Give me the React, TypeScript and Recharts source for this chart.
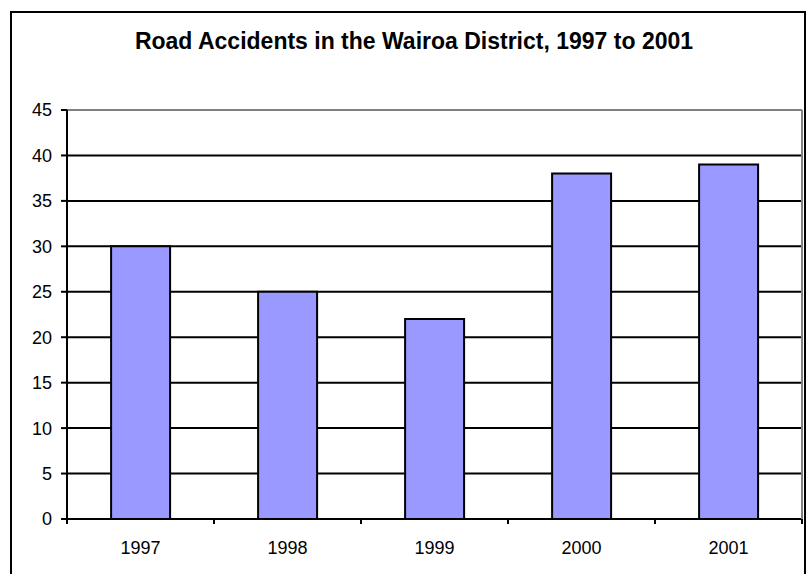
import React from 'react';
import { BarChart, Bar, XAxis, YAxis, CartesianGrid, ReferenceLine } from 'recharts';

const TITLE = 'Road Accidents in the Wairoa District, 1997 to 2001';
const years = ['1997', '1998', '1999', '2000', '2001'];
const accidents = [30, 25, 22, 38, 39];
const yTicks = [0, 5, 10, 15, 20, 25, 30, 35, 40, 45];

const data = years.map((year, i) => ({ year, accidents: accidents[i] }));

const FONT = '"Liberation Sans", Arial, sans-serif';
const X_TICK_SIZE = 5;
const X_TICK_MARGIN = 17;

const XTick = (props: any) => {
  const { x, y, payload, index, visibleTicksCount } = props;
  const half = payload && payload.offset ? payload.offset : 0;
  const axisY = y - X_TICK_SIZE - X_TICK_MARGIN;
  const isLast = index === visibleTicksCount - 1;
  return (
    <g>
      <line x1={x - half} x2={x - half} y1={axisY} y2={axisY + X_TICK_SIZE} stroke="#000" strokeWidth={2} />
      {isLast && (
        <line x1={x + half} x2={x + half} y1={axisY} y2={axisY + X_TICK_SIZE} stroke="#000" strokeWidth={2} />
      )}
      <text x={x} y={y} dy="0.71em" textAnchor="middle" fontFamily={FONT} fontSize={18} fill="#000">
        {payload.value}
      </text>
    </g>
  );
};

export default function App() {
  return (
    <div style={{ position: 'absolute', left: 0, top: 0, width: 806, height: 574, overflow: 'hidden', background: '#fff' }}>
      <div
        style={{
          position: 'absolute',
          left: 10,
          top: 11,
          width: 796,
          height: 700,
          border: '2px solid #000',
          boxSizing: 'border-box',
        }}
      />
      <div
        style={{
          position: 'absolute',
          left: 14,
          top: 30,
          width: 800,
          textAlign: 'center',
          fontFamily: FONT,
          fontWeight: 'bold',
          fontSize: 23,
          lineHeight: '23px',
          color: '#000',
          whiteSpace: 'nowrap',
        }}
      >
        {TITLE}
      </div>
      <div style={{ position: 'absolute', left: 0, top: 0 }}>
        <BarChart
          width={806}
          height={574}
          data={data}
          margin={{ top: 110, right: 0, bottom: 0, left: 0 }}
          barCategoryGap="30%"
        >
          <CartesianGrid yAxisId="left" vertical={false} stroke="#000" strokeWidth={2} />
          <XAxis
            dataKey="year"
            height={55}
            axisLine={{ stroke: '#000', strokeWidth: 2 }}
            tickLine={false}
            tickSize={X_TICK_SIZE}
            tickMargin={X_TICK_MARGIN}
            tick={<XTick />}
            interval={0}
          />
          <YAxis
            yAxisId="left"
            domain={[0, 45]}
            ticks={yTicks}
            width={67}
            axisLine={{ stroke: '#000', strokeWidth: 2 }}
            tickLine={{ stroke: '#000', strokeWidth: 2 }}
            tickSize={6}
            tickMargin={9}
            tick={{ fontFamily: FONT, fontSize: 18, fill: '#000' }}
            interval={0}
          />
          <YAxis
            yAxisId="right"
            orientation="right"
            domain={[0, 45]}
            ticks={yTicks}
            width={4}
            tick={false}
            tickLine={false}
            axisLine={{ stroke: '#808080', strokeWidth: 2 }}
          />
          <Bar
            yAxisId="left"
            dataKey="accidents"
            fill="#9999FF"
            stroke="#000"
            strokeWidth={2}
            isAnimationActive={false}
          />
          <ReferenceLine yAxisId="left" y={45} stroke="#808080" strokeWidth={2} />
        </BarChart>
      </div>
    </div>
  );
}
